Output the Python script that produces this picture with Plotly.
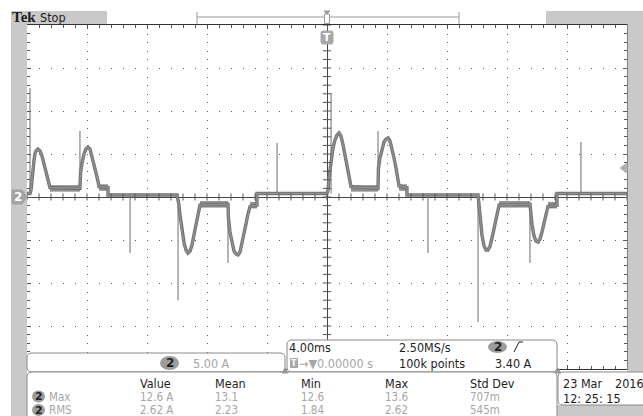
import plotly.graph_objects as go
import numpy as np

W, H = 643, 416

# ---------------- waveform data (time in ms, current in A) ----------------
p1_t = [-20.00, -19.80, -19.73, -19.67, -19.60, -19.53, -19.47, -19.40, -19.27, -19.13,
        -19.00, -18.87, -18.73, -18.60, -18.47, -16.47, -16.43, -16.33, -16.20, -16.07,
        -15.93, -15.80, -15.67, -15.53, -15.40, -15.27, -15.20, -14.60, -14.60, -10.00,
        -9.93, -9.87, -9.80, -9.67, -9.53, -9.40, -9.27, -9.13, -9.00, -8.87,
        -8.73, -8.60, -8.47, -6.60, -6.57, -6.47, -6.33, -6.20, -6.07, -5.93,
        -5.80, -5.67, -5.53, -5.40, -5.27, -5.13, -4.67, -4.67, 0.00]
p1_i = [0.40, 0.40, 0.81, 2.21, 3.37, 4.30, 5.00, 5.35, 5.58, 5.35,
        4.77, 3.95, 2.91, 1.98, 1.10, 1.00, 2.79, 3.95, 5.00, 5.58,
        5.81, 5.58, 4.77, 3.72, 2.79, 1.86, 1.20, 1.10, 0.23, 0.23,
        -0.35, -0.93, -2.09, -4.07, -5.35, -6.16, -6.51, -6.28, -5.58, -4.42,
        -3.14, -1.86, -0.95, -0.85, -2.44, -4.07, -5.47, -6.28, -6.63, -6.74,
        -6.40, -5.47, -4.30, -3.14, -1.98, -1.10, -0.95, 0.40, 0.40]
p2_t = [0.07, 0.13, 0.27, 0.40, 0.53, 0.67, 0.80, 0.93, 1.07, 1.20,
        1.33, 1.47, 1.60, 3.40, 3.43, 3.53, 3.67, 3.80, 3.93, 4.07,
        4.20, 4.33, 4.47, 4.60, 4.73, 4.80, 5.33, 5.33, 10.07, 10.13,
        10.20, 10.33, 10.47, 10.60, 10.73, 10.87, 11.00, 11.13, 11.27, 11.40,
        11.47, 13.53, 13.57, 13.67, 13.80, 13.93, 14.07, 14.20, 14.33, 14.47,
        14.60, 14.73, 15.33, 15.33, 20.00]
p2_i = [0.81, 2.21, 4.30, 5.70, 6.63, 7.21, 7.44, 7.09, 6.05, 4.88,
        3.60, 2.44, 1.20, 1.00, 3.37, 4.53, 5.70, 6.40, 6.74, 6.86,
        6.51, 5.70, 4.53, 3.37, 2.21, 1.30, 1.10, 0.23, 0.23, -0.93,
        -2.44, -4.42, -5.70, -6.16, -6.16, -5.70, -4.77, -3.60, -2.56, -1.51,
        -0.95, -0.85, -1.74, -3.26, -4.53, -5.12, -5.23, -4.88, -4.07, -3.14,
        -1.98, -1.10, -0.95, 0.40, 0.40]

# switching spikes
spike_t = [-19.80, -16.47, -13.13, -9.93, -6.60, -3.33, 0.27, 3.40, 6.73, 10.07, 13.53, 16.93]
spike_from = [0.4, 1.0, 0.23, 0.23, -0.85, 0.4, 0.4, 1.0, 0.23, 0.23, -0.85, 0.4]
spike_to = [12.67, 7.67, -6.51, -12.0, -7.67, 6.28, 12.09, 7.67, -6.51, -14.53, -7.67, 6.40]

# noisy plateaus
band_t0 = [-18.47, -15.20, -8.47, -5.13, 1.60, 4.80, 11.47, 14.73]
band_t1 = [-16.47, -14.60, -6.60, -4.67, 3.40, 5.33, 13.53, 15.33]
band_lv = [1.0, 1.1, -0.85, -0.95, 1.0, 1.1, -0.85, -0.95]

# readouts
ch_scale = "5.00 A"
time_scale = "4.00ms"
sample_rate = "2.50MS/s"
rec_len = "100k points"
trig_level = "3.40 A"
trig_pos = "0.00000 s"
meas_cols = ["Value", "Mean", "Min", "Max", "Std Dev"]
meas_rows = ["Max", "RMS"]
meas_vals = [["12.6 A", "13.1", "12.6", "13.6", "707m"],
             ["2.62 A", "2.23", "1.84", "2.62", "545m"]]
date_txt = "23 Mar"
year_txt = "2016"
time_txt = "12: 25: 15"

FONT = "Liberation Sans Narrow, DejaVu Sans Condensed, Roboto Condensed, Arial Narrow, sans-serif"
DARK = "#1e1e1e"
LIGHT = "#a6a6a6"
PANEL = "#c9c9c9"


def px(x):
    return x / W


def py(y):
    return 1 - y / H


# plot area in pixels
X0, X1, Y0, Y1 = 27, 627, 25, 369

fig = go.Figure()

# bands
bx, by = [], []
for a, b, l in zip(band_t0, band_t1, band_lv):
    bx += [a, b, None]
    by += [l, l, None]
fig.add_trace(go.Scatter(x=bx, y=by, mode="lines", line=dict(color="#8f8f8f", width=6.5),
                         hoverinfo="skip", showlegend=False))

# spikes
sx, sy = [], []
for t, a, b in zip(spike_t, spike_from, spike_to):
    sx += [t, t, None]
    sy += [a, b, None]
fig.add_trace(go.Scatter(x=sx, y=sy, mode="lines", line=dict(color="#7a7a7a", width=1.1),
                         hoverinfo="skip", showlegend=False))

tt = p1_t + p2_t
ii = p1_i + p2_i
fig.add_trace(go.Scatter(x=tt, y=ii, mode="lines", line=dict(color="#727272", width=3.4),
                         hoverinfo="skip", showlegend=False))
fig.add_trace(go.Scatter(x=tt, y=ii, mode="lines", line=dict(color="#8e8e8e", width=1.6),
                         hoverinfo="skip", showlegend=False))

# crosshair minor ticks (decoration)
xm = np.arange(-20, 20.01, 0.8)
ym = np.arange(-20, 20.01, 1.0)
fig.add_trace(go.Scatter(x=xm, y=np.zeros_like(xm), mode="markers",
                         marker=dict(symbol="line-ns", size=5, line=dict(color="#555", width=1)),
                         hoverinfo="skip", showlegend=False))
fig.add_trace(go.Scatter(x=np.zeros_like(ym), y=ym, mode="markers",
                         marker=dict(symbol="line-ew", size=6, line=dict(color="#555", width=1)),
                         hoverinfo="skip", showlegend=False))

shapes = []
ann = []


def rect(x0, y0, x1, y1, fill, line=None, lw=1):
    shapes.append(dict(type="rect", xref="paper", yref="paper",
                       x0=px(x0), x1=px(x1), y0=py(y1), y1=py(y0),
                       fillcolor=fill, line=dict(color=line or fill, width=lw if line else 0)))


def rrect(x0, y0, x1, y1, r, fill="white", line="#8a8a8a", lw=1):
    p = (f"M {px(x0 + r)},{py(y0)} L {px(x1 - r)},{py(y0)} "
         f"Q {px(x1)},{py(y0)} {px(x1)},{py(y0 + r)} L {px(x1)},{py(y1 - r)} "
         f"Q {px(x1)},{py(y1)} {px(x1 - r)},{py(y1)} L {px(x0 + r)},{py(y1)} "
         f"Q {px(x0)},{py(y1)} {px(x0)},{py(y1 - r)} L {px(x0)},{py(y0 + r)} "
         f"Q {px(x0)},{py(y0)} {px(x0 + r)},{py(y0)} Z")
    shapes.append(dict(type="path", xref="paper", yref="paper", path=p,
                       fillcolor=fill, line=dict(color=line, width=lw)))


def path(pts, fill=None, line="#999", lw=1, close=False):
    p = "M " + " L ".join(f"{px(a)},{py(b)}" for a, b in pts) + (" Z" if close else "")
    d = dict(type="path", xref="paper", yref="paper", path=p, line=dict(color=line, width=lw))
    if fill:
        d["fillcolor"] = fill
    shapes.append(d)


def oval(x0, y0, x1, y1, fill="#9c9c9c"):
    shapes.append(dict(type="circle", xref="paper", yref="paper",
                       x0=px(x0), x1=px(x1), y0=py(y1), y1=py(y0),
                       fillcolor=fill, line=dict(color=fill, width=0)))


def txt(x, y, s, color=DARK, size=12.5, anchor="left", family=FONT):
    ann.append(dict(xref="paper", yref="paper", x=px(x), y=py(y), text=s,
                    xanchor=anchor, yanchor="middle", showarrow=False, borderpad=0,
                    font=dict(family=family, size=size, color=color)))


# side panels
rect(11, 11, 27, 416, PANEL)
rect(627.5, 11, 643, 372, PANEL)
rect(11, 11, 107, 24, PANEL)
rect(546, 11, 643, 24, PANEL)
rect(557, 405, 643, 416, PANEL)

# record view at top
path([(197, 12), (197, 24)], line="#9a9a9a")
path([(459, 12), (459, 24)], line="#9a9a9a")
path([(197, 17), (459, 17)], line="#9a9a9a")
path([(324, 11), (330, 11), (327, 14)], fill="#9a9a9a", line="#9a9a9a", close=True)
rect(324.5, 14, 329.5, 23.5, "white", line="#9a9a9a")

# trigger position marker
rrect(321, 31, 333, 44, 2, fill="#a8a8a8", line="#a8a8a8")
txt(327, 37.5, "<b>T</b>", color="white", size=11, anchor="center", family="DejaVu Sans")

# channel ground marker on left
path([(12, 190), (22, 190), (27, 197), (22, 204), (12, 204)], fill="#a3a3a3", line="#a3a3a3", close=True)
txt(17.5, 197, "<b>2</b>", color="white", size=12, anchor="center", family="DejaVu Sans")

# trigger level marker on right
path([(620, 168), (627, 163), (627, 173)], fill="#b0b0b0", line="#b0b0b0", close=True)

# channel scale box
rrect(27, 353, 285, 372, 5)
oval(160, 356, 179, 370)
txt(169.5, 363, "<b>2</b>", size=12, anchor="center", family="DejaVu Sans")
txt(192, 363, ch_scale, color=LIGHT)

# timebase box
rrect(287, 340, 557, 372, 5)
txt(288, 347, time_scale)
txt(398, 347, sample_rate)
oval(488, 341, 507, 353)
txt(497.5, 347, "<b>2</b>", size=12, anchor="center", family="DejaVu Sans")
path([(514, 352), (519, 342), (523, 342)], line=DARK, lw=1)
rect(290, 358, 298, 368, "#a8a8a8")
txt(294, 363, "<b>T</b>", color="white", size=8, anchor="center", family="DejaVu Sans")
txt(298, 363, "\u2192\u25bc" + trig_pos, color=LIGHT)
txt(398, 363, rec_len)
txt(533, 363, trig_level, anchor="right")

# measurement table
rrect(27, 372, 557, 430, 5)
path([(282, 373), (285, 368), (288, 373)], fill="#9a9a9a", line="#9a9a9a", close=True)
col_x = [139, 214, 300, 384, 469]
for cx, c in zip(col_x, meas_cols):
    txt(cx, 383, c)
row_y = [396.5, 410]
for ry, rname, vals in zip(row_y, meas_rows, meas_vals):
    oval(32, ry - 6, 45, ry + 6)
    txt(38.5, ry, "<b>2</b>", size=11, anchor="center", family="DejaVu Sans")
    txt(48, ry, rname, color=LIGHT, size=11.5)
    for cx, v in zip(col_x, vals):
        txt(cx, ry, v, color=LIGHT, size=11.5)

# date box
rrect(558, 372, 660, 405, 5)
path([(555, 373), (558, 368), (561, 373)], fill="#9a9a9a", line="#9a9a9a", close=True)
txt(562, 383, date_txt)
txt(614, 383, year_txt)
txt(562, 398, time_txt)

# header text
txt(11, 17, "<b>Tek</b>", size=15, family="Liberation Serif, DejaVu Serif, serif")
txt(39, 17.5, "Stop", size=12.5)

fig.update_layout(
    width=W, height=H,
    margin=dict(l=0, r=0, t=0, b=0),
    paper_bgcolor="white", plot_bgcolor="white",
    shapes=shapes, annotations=ann, showlegend=False,
    xaxis=dict(range=[-20, 20], domain=[px(X0), px(X1)], dtick=4, tick0=0,
               showgrid=True, gridcolor="#555", gridwidth=1, griddash="1px,7.6px",
               zeroline=True, zerolinecolor="#444", zerolinewidth=1,
               showline=True, mirror="ticks", linecolor="#333", linewidth=1,
               ticks="inside", ticklen=4, tickcolor="#555", showticklabels=False,
               minor=dict(dtick=0.8, ticks="inside", ticklen=3, tickcolor="#555", showgrid=False),
               fixedrange=True),
    yaxis=dict(range=[-20, 20], domain=[py(Y1), py(Y0)], dtick=5, tick0=0,
               showgrid=True, gridcolor="#555", gridwidth=1, griddash="1px,11px",
               zeroline=True, zerolinecolor="#444", zerolinewidth=1,
               showline=True, mirror="ticks", linecolor="#333", linewidth=1,
               ticks="inside", ticklen=4, tickcolor="#555", showticklabels=False,
               minor=dict(dtick=1, ticks="inside", ticklen=3, tickcolor="#555", showgrid=False),
               fixedrange=True),
)

fig.write_html("out.html", config={"displayModeBar": False})
with open("out.html", "r", encoding="utf-8") as f:
    html = f.read()
html = html.replace("<head>", "<head><style>html,body{margin:0;padding:0;overflow:hidden;}</style>", 1)
with open("out.html", "w", encoding="utf-8") as f:
    f.write(html)
